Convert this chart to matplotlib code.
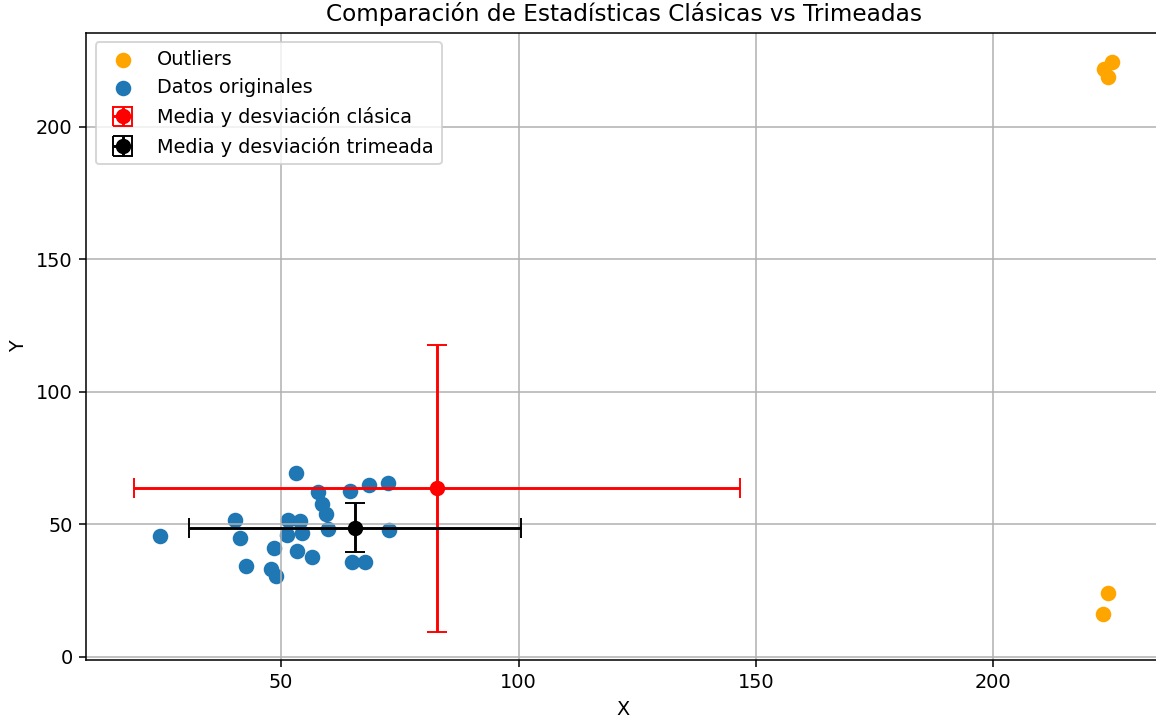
import matplotlib
matplotlib.use("Agg")
import matplotlib.pyplot as plt
import numpy as np

# Datos originales
x_data = [53.2, 57.7, 64.6, 68.6, 72.4, 58.6, 59.5, 40.3, 51.5, 54.0, 59.8, 51.2,
          54.4, 72.7, 24.5, 41.4, 48.4, 53.3, 56.5, 65.0, 67.7, 42.5, 47.9, 48.9]
y_data = [69.3, 62.0, 62.4, 64.9, 65.5, 57.7, 53.8, 51.7, 51.7, 51.1, 48.2, 46.0,
          46.7, 47.9, 45.7, 44.8, 41.0, 39.7, 37.5, 35.8, 35.6, 34.1, 33.2, 30.3]

# Outliers
x_out = [225.0, 223.3, 224.2, 224.2, 223.1]
y_out = [224.6, 221.8, 218.8, 24.0, 16.1]

# Estadisticas clasicas y trimeadas
mean_classic = (82.9, 63.6)
std_classic = (63.8, 54.2)
mean_trim = (65.6, 48.7)
std_trim = (35.0, 9.2)

dpi = 138.6
fig = plt.figure(figsize=(1156 / dpi, 723 / dpi), dpi=dpi)
ax = fig.add_axes([86 / 1156, 63 / 723, 1075 / 1156, 627.5 / 723])

ax.scatter(x_out, y_out, color='orange', s=50, label='Outliers')
ax.scatter(x_data, y_data, color='tab:blue', s=50, label='Datos originales')
ax.errorbar(mean_classic[0], mean_classic[1], xerr=std_classic[0], yerr=std_classic[1],
            fmt='o', color='red', markersize=7, capsize=5, label='Media y desviación clásica')
ax.errorbar(mean_trim[0], mean_trim[1], xerr=std_trim[0], yerr=std_trim[1],
            fmt='o', color='black', markersize=7, capsize=5, label='Media y desviación trimeada')

ax.set_xlim(8.9, 235.3)
ax.set_ylim(-1.3, 235.6)
ax.set_xticks([50, 100, 150, 200])
ax.set_yticks([0, 50, 100, 150, 200])
ax.set_title('Comparación de Estadísticas Clásicas vs Trimeadas', fontsize=12)
ax.set_xlabel('X')
ax.set_ylabel('Y')
ax.grid(True)
ax.legend(loc='upper left')

fig.savefig('out.png', dpi=dpi)
